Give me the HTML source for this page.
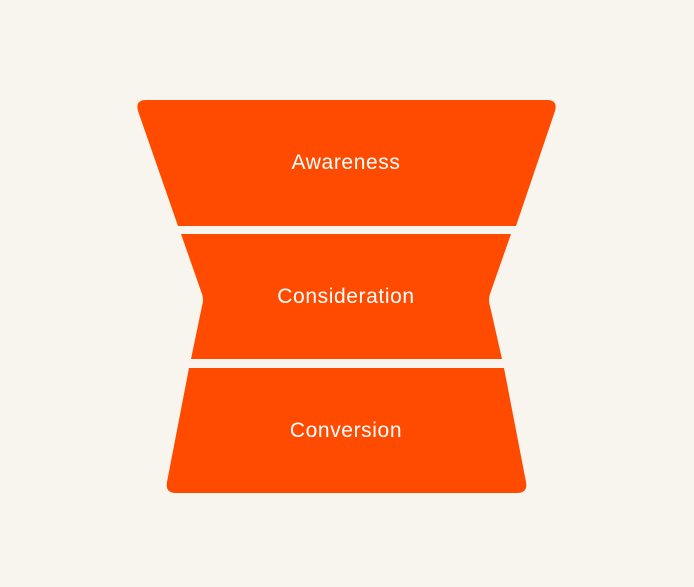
<!DOCTYPE html>
<html><head><style>
body{margin:0;background:#f8f5ee;width:694px;height:587px;overflow:hidden}
svg{display:block}
text{font-family:"Liberation Sans",sans-serif;font-size:21px;letter-spacing:0.6px;fill:#fff;text-anchor:middle}
</style></head><body>
<svg width="694" height="587" viewBox="0 0 694 587">
<path d="M146 100 L547 100 Q558 100 555 111 L516 226 L178 226 L138 111 Q135 100 146 100 Z" fill="#ff4b00"/>
<path d="M181 234 L511 234 L490 294 Q488 300 490 306 L502 359 L191 359 L202 306 Q204 300 202 294 Z" fill="#ff4b00"/>
<path d="M189 368 L504 368 L526 482 Q528 493 517 493 L176 493 Q165 493 167 482 Z" fill="#ff4b00"/>
<text x="346" y="169">Awareness</text>
<text x="346" y="303">Consideration</text>
<text x="346" y="437">Conversion</text>
</svg>
</body></html>
